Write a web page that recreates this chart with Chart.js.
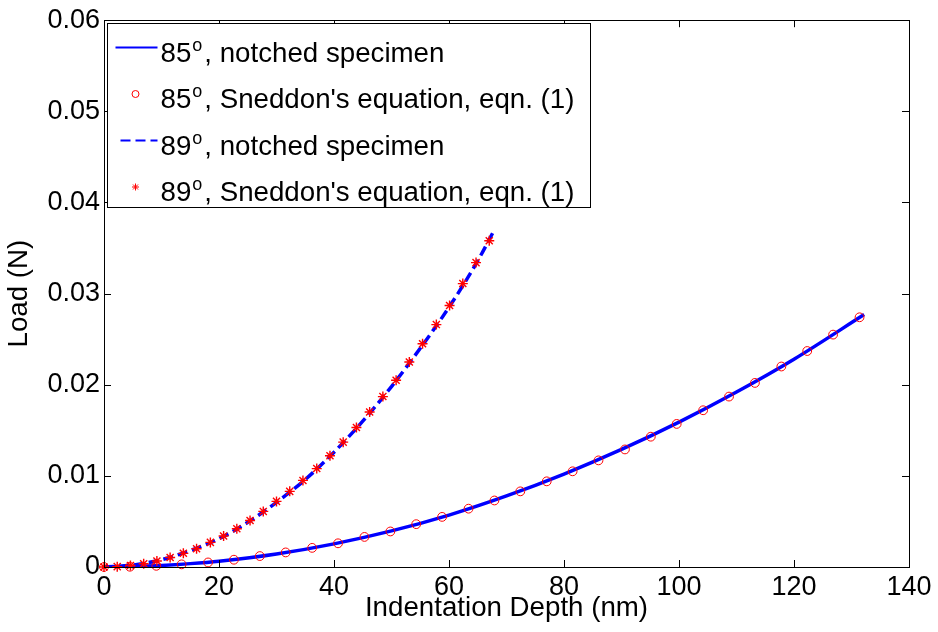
<!DOCTYPE html>
<html>
<head>
<meta charset="utf-8">
<script src="https://cdn.jsdelivr.net/npm/chart.js@4.4.0/dist/chart.umd.min.js"></script>
<style>
  html, body { margin: 0; padding: 0; background: #fff; }
  #wrap { width: 938px; height: 632px; }
</style>
</head>
<body>
<div id="wrap"><canvas id="chart" width="938" height="632"></canvas></div>
<script>
const xTicks = [0, 20, 40, 60, 80, 100, 120, 140];
const yTicks = [0, 0.01, 0.02, 0.03, 0.04, 0.05, 0.06];

// 85 deg, notched specimen (simulation curve)
const depth85Line = [0, 5, 10, 15, 20, 30, 40, 50, 60, 70, 80, 90, 100, 110, 120, 132.2];
const load85Line = [0, 0.00005, 0.00017, 0.00037, 0.00064, 0.00143, 0.00254, 0.00396, 0.0057, 0.0078, 0.0102, 0.0129, 0.0159, 0.0192, 0.0228, 0.0277];

// 85 deg, Sneddon's equation
const depth85Eq = [0, 4.5, 9.1, 13.5, 18.1, 22.6, 27.1, 31.6, 36.2, 40.7, 45.3, 49.8, 54.3, 58.8, 63.4, 67.9, 72.4, 77.0, 81.5, 86.0, 90.6, 95.1, 99.6, 104.2, 108.7, 113.2, 117.8, 122.3, 126.8, 131.4];
const load85Eq = [0, 0.00003, 0.00013, 0.00029, 0.0005, 0.0008, 0.0012, 0.0016, 0.0021, 0.0026, 0.0033, 0.0039, 0.0047, 0.0055, 0.0064, 0.0073, 0.0083, 0.0094, 0.0105, 0.0117, 0.0129, 0.0143, 0.0157, 0.0172, 0.0187, 0.0202, 0.0220, 0.0237, 0.0255, 0.0274];

// 89 deg, notched specimen
const depth89Line = [0, 5, 10, 15, 20, 25, 30, 35, 40, 45, 50, 55, 60, 65, 67.9];
const load89Line = [0, 0.0002, 0.0008, 0.0018, 0.0031, 0.0049, 0.0071, 0.0096, 0.0126, 0.0160, 0.0198, 0.0240, 0.0285, 0.0336, 0.0370];

// 89 deg, Sneddon's equation
const depth89Eq = [0, 2.3, 4.6, 6.9, 9.2, 11.5, 13.8, 16.1, 18.5, 20.8, 23.1, 25.4, 27.7, 30.0, 32.3, 34.6, 37.0, 39.3, 41.6, 43.9, 46.2, 48.5, 50.8, 53.1, 55.4, 57.8, 60.1, 62.4, 64.7, 67.0];
const load89Eq = [0, 0.00004, 0.00016, 0.00036, 0.00066, 0.00104, 0.0015, 0.0020, 0.0027, 0.0034, 0.0042, 0.0051, 0.0061, 0.0072, 0.0083, 0.0095, 0.0108, 0.0122, 0.0137, 0.0153, 0.0170, 0.0187, 0.0205, 0.0225, 0.0245, 0.0266, 0.0287, 0.0311, 0.0334, 0.0358];

// legend rows: angle, superscript, rest
const legendRows = [
  ["85", "o", ", notched specimen"],
  ["85", "o", ", Sneddon's equation, eqn. (1)"],
  ["89", "o", ", notched specimen"],
  ["89", "o", ", Sneddon's equation, eqn. (1)"],
];

const FONT = "'Liberation Sans', Arial, Helvetica, sans-serif";
const BLUE = "#0000ff";
const RED = "#ff0000";

const pts = (xs, ys) => xs.map((x, i) => ({ x: x, y: ys[i] }));

Chart.defaults.font.family = FONT;
Chart.defaults.font.size = 27;
Chart.defaults.color = "#000";

// MATLAB style box with inward ticks on all four sides, plus the legend box
const matlabAxes = {
  id: "matlabAxes",
  afterDatasetsDraw(chart) {
    const { ctx, chartArea: a, scales } = chart;
    const len = 7;
    ctx.save();
    ctx.strokeStyle = "#000";
    ctx.lineWidth = 1;
    ctx.beginPath();
    xTicks.forEach((v) => {
      const px = Math.round(scales.x.getPixelForValue(v)) + 0.5;
      ctx.moveTo(px, a.bottom); ctx.lineTo(px, a.bottom - len);
      ctx.moveTo(px, a.top); ctx.lineTo(px, a.top + len);
    });
    yTicks.forEach((v) => {
      const py = Math.round(scales.y.getPixelForValue(v)) + 0.5;
      ctx.moveTo(a.left, py); ctx.lineTo(a.left + len, py);
      ctx.moveTo(a.right, py); ctx.lineTo(a.right - len, py);
    });
    ctx.stroke();
    ctx.strokeRect(Math.round(a.left) + 0.5, Math.round(a.top) + 0.5,
      Math.round(a.right - a.left), Math.round(a.bottom - a.top));
    ctx.restore();
  },
  afterDraw(chart) {
    const { ctx, chartArea: a } = chart;
    const ds = chart.data.datasets;
    const bx = Math.round(a.left) + 3.5, by = Math.round(a.top) + 3.5;
    const rowH = 46.5;
    const textX = bx + 53;
    const big = "27.7px " + FONT, small = "18px " + FONT;
    ctx.save();
    let maxW = 0;
    legendRows.forEach((r) => {
      ctx.font = big;
      let w = ctx.measureText(r[0]).width + ctx.measureText(r[2]).width;
      ctx.font = small;
      w += ctx.measureText(r[1]).width + 3;
      maxW = Math.max(maxW, w);
    });
    const bw = Math.round(textX - bx + maxW + 16);
    const bh = 184;
    ctx.fillStyle = "#fff";
    ctx.fillRect(bx, by, bw, bh);
    ctx.strokeStyle = "#000";
    ctx.lineWidth = 1;
    ctx.strokeRect(bx, by, bw, bh);

    legendRows.forEach((r, i) => {
      const d = ds[i];
      const base = by + 38 + i * rowH;
      const my = base - 14;
      if (d.showLine) {
        ctx.save();
        ctx.strokeStyle = d.borderColor;
        ctx.lineWidth = 2;
        ctx.setLineDash(d.borderDash || []);
        ctx.beginPath();
        ctx.moveTo(d.borderDash ? bx + 13 : bx + 8, my);
        ctx.lineTo(bx + 50, my);
        ctx.stroke();
        ctx.restore();
      } else {
        ctx.save();
        ctx.strokeStyle = d.pointBorderColor;
        ctx.fillStyle = "rgba(0,0,0,0)";
        ctx.lineWidth = 1;
        Chart.helpers.drawPoint(ctx, {
          pointStyle: d.pointStyle, radius: 3.5, borderWidth: 1, rotation: 0
        }, bx + 28, my);
        ctx.restore();
      }
      ctx.fillStyle = "#000";
      ctx.textBaseline = "alphabetic";
      ctx.textAlign = "left";
      ctx.font = big;
      let x = textX;
      ctx.fillText(r[0], x, base);
      x += ctx.measureText(r[0]).width + 1;
      ctx.font = small;
      ctx.fillText(r[1], x, base - 11);
      x += ctx.measureText(r[1]).width + 2;
      ctx.font = big;
      ctx.fillText(r[2], x, base);
    });
    ctx.restore();
  }
};

new Chart(document.getElementById("chart"), {
  type: "scatter",
  data: {
    datasets: [
      {
        label: "85o, notched specimen",
        data: pts(depth85Line, load85Line),
        showLine: true,
        borderColor: BLUE,
        borderWidth: 3.5,
        pointRadius: 0,
        cubicInterpolationMode: "monotone",
        order: 1,
      },
      {
        label: "85o, Sneddon's equation, eqn. (1)",
        data: pts(depth85Eq, load85Eq),
        showLine: false,
        pointStyle: "circle",
        pointRadius: 4.4,
        pointBorderWidth: 1,
        pointBorderColor: RED,
        pointBackgroundColor: "rgba(0,0,0,0)",
        clip: false,
        order: 0,
      },
      {
        label: "89o, notched specimen",
        data: pts(depth89Line, load89Line),
        showLine: true,
        borderColor: BLUE,
        borderWidth: 3.5,
        borderDash: [10, 5],
        pointRadius: 0,
        cubicInterpolationMode: "monotone",
        order: 1,
      },
      {
        label: "89o, Sneddon's equation, eqn. (1)",
        data: pts(depth89Eq, load89Eq),
        showLine: false,
        pointStyle: "star",
        pointRadius: 5,
        pointBorderWidth: 1.4,
        pointBorderColor: RED,
        pointBackgroundColor: RED,
        clip: false,
        order: 0,
      },
    ],
  },
  options: {
    responsive: false,
    animation: false,
    layout: { padding: { top: 19, right: 29, left: 0, bottom: 0 } },
    plugins: {
      legend: { display: false },
      tooltip: { enabled: false },
    },
    scales: {
      x: {
        type: "linear",
        min: 0,
        max: 140,
        afterBuildTicks: (s) => { s.ticks = xTicks.map((v) => ({ value: v })); },
        afterFit: (s) => { s.height = 65; },
        grid: { display: false, drawTicks: false },
        border: { display: false },
        ticks: { padding: 4, maxRotation: 0, autoSkip: false, callback: (v) => String(v) },
        title: { display: true, text: "Indentation Depth (nm)", font: { size: 27.7 }, padding: { top: 0, bottom: 7 } },
      },
      y: {
        type: "linear",
        min: 0,
        max: 0.06,
        afterBuildTicks: (s) => { s.ticks = yTicks.map((v) => ({ value: v })); },
        afterFit: (s) => { s.width = 104; },
        grid: { display: false, drawTicks: false },
        border: { display: false },
        ticks: { padding: 4, autoSkip: false, callback: (v) => String(+v.toFixed(2)) },
        title: { display: true, text: "Load (N)", font: { size: 27.7 }, padding: { top: 3, bottom: 0 } },
      },
    },
  },
  plugins: [matlabAxes],
});
</script>
</body>
</html>
